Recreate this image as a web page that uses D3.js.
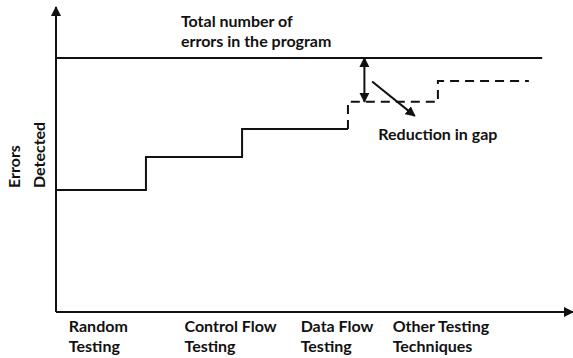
<!DOCTYPE html>
<html>
<head>
<meta charset="utf-8">
<script src="https://cdn.jsdelivr.net/npm/d3@7"></script>
<style>
  body { margin: 0; background: #fff; }
  text { font-family: Lato, "Open Sans", sans-serif; font-weight: bold; fill: #111; font-size: 16px; }
</style>
</head>
<body>
<div id="main_div"></div>
<script>
// schematic values (arbitrary units)
const categories = [["Random", "Testing"], ["Control Flow", "Testing"], ["Data Flow", "Testing"], ["Other Testing", "Techniques"]];
const labelX = [0.25, 2.5, 4.76, 6.55];
const solidSteps = [[0, 4.0], [1.75, 5.08], [3.62, 6.0], [5.68, 6.0]];
const dashedSteps = [[5.68, 6.0], [5.68, 6.89], [7.43, 6.89], [7.43, 7.57], [9.2, 7.57]];
const totalErrors = 8.33;
const totalEnd = 9.46;
const gapX = 6.0;
const reductionArrow = [[6.15, 7.56], [6.98, 6.43]];

const W = 573, H = 358;
const xScale = d3.scaleLinear().domain([0, 10]).range([56, 570]);
const yScale = d3.scaleLinear().domain([0, 10]).range([312, 7]);

const svg = d3.select("#main_div").append("svg")
    .attr("width", W).attr("height", H);

svg.append("defs").append("marker")
    .attr("id", "head")
    .attr("viewBox", "0 0 10 10")
    .attr("refX", 9).attr("refY", 5)
    .attr("markerWidth", 5).attr("markerHeight", 5)
    .attr("markerUnits", "strokeWidth")
    .attr("orient", "auto-start-reverse")
    .append("path").attr("d", "M0,0 L10,5 L0,10 z").attr("fill", "#111");

const line = d3.line().x(d => xScale(d[0])).y(d => yScale(d[1]));
const step = d3.line().x(d => xScale(d[0])).y(d => yScale(d[1])).curve(d3.curveStepAfter);

// axes
svg.append("path")
    .datum([[0, 0], [0, 10]])
    .attr("d", line).attr("stroke", "#111").attr("stroke-width", 2)
    .attr("fill", "none").attr("marker-end", "url(#head)");
svg.append("path")
    .datum([[0, 0], [10, 0]])
    .attr("d", d3.line().x(d => xScale(d[0]) + (d[0] ? 3 : 0)).y(d => yScale(d[1])))
    .attr("stroke", "#111").attr("stroke-width", 2)
    .attr("fill", "none").attr("marker-end", "url(#head)");

// total errors
svg.append("path")
    .datum([[0, totalErrors], [totalEnd, totalErrors]])
    .attr("d", line).attr("stroke", "#111").attr("stroke-width", 2).attr("fill", "none");

// errors detected
svg.append("path")
    .datum(solidSteps)
    .attr("d", step).attr("stroke", "#111").attr("stroke-width", 2).attr("fill", "none");
svg.append("path")
    .datum(dashedSteps)
    .attr("d", line).attr("stroke", "#111").attr("stroke-width", 2)
    .attr("stroke-dasharray", "9,6").attr("fill", "none");

// gap arrows
svg.append("path")
    .datum([[gapX, totalErrors], [gapX, 6.89]])
    .attr("d", line).attr("stroke", "#111").attr("stroke-width", 2).attr("fill", "none")
    .attr("marker-start", "url(#head)").attr("marker-end", "url(#head)");
svg.append("path")
    .datum(reductionArrow)
    .attr("d", line).attr("stroke", "#111").attr("stroke-width", 2).attr("fill", "none")
    .attr("marker-end", "url(#head)");

// texts
const t1 = svg.append("text").attr("x", xScale(2.43)).attr("y", 27);
t1.append("tspan").attr("x", xScale(2.43)).text("Total number of");
t1.append("tspan").attr("x", xScale(2.43)).attr("dy", 20).text("errors in the program");

svg.append("text").attr("x", xScale(6.27)).attr("y", 140).text("Reduction in gap");

categories.forEach((c, i) => {
    const t = svg.append("text").attr("y", 332);
    t.append("tspan").attr("x", xScale(labelX[i])).text(c[0]);
    t.append("tspan").attr("x", xScale(labelX[i])).attr("dy", 20).text(c[1]);
});

const yl = svg.append("text")
    .attr("transform", "translate(20,188) rotate(-90)");
yl.append("tspan").attr("x", 0).attr("y", 0).text("Errors");
yl.append("tspan").attr("x", 0).attr("y", 25).text("Detected");
</script>
</body>
</html>
